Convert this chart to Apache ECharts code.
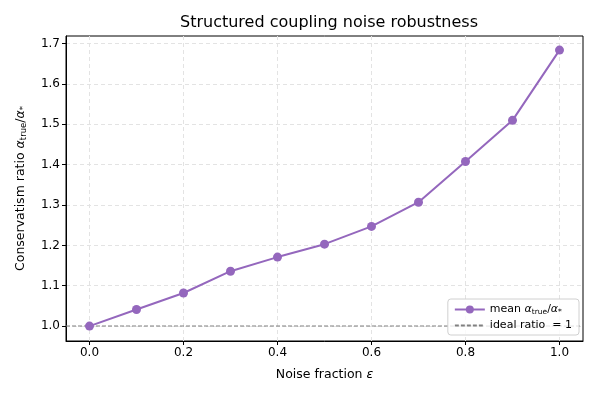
<!DOCTYPE html>
<html>
<head>
<meta charset="utf-8">
<script src="https://cdn.jsdelivr.net/npm/echarts@6/dist/echarts.min.js"></script>
<style>
  html, body { margin: 0; padding: 0; background: #fff; }
  #main { width: 598px; height: 399px; }
</style>
</head>
<body>
<div id="main"></div>
<script>
  // noise fraction eps and mean alpha_true / alpha_*
  const noiseFrac = [0.0, 0.1, 0.2, 0.3, 0.4, 0.5, 0.6, 0.7, 0.8, 0.9, 1.0];
  const meanRatio = [1.000, 1.041, 1.082, 1.136, 1.171, 1.203, 1.247, 1.307, 1.408, 1.510, 1.684];
  const idealRatio = 1;
  const xTicks = [0.0, 0.2, 0.4, 0.6, 0.8, 1.0];
  const yTicks = [1.0, 1.1, 1.2, 1.3, 1.4, 1.5, 1.6, 1.7];

  const font = 'DejaVu Sans';
  const purple = '#9467bd';

  const chart = echarts.init(document.getElementById('main'));
  chart.setOption({
    backgroundColor: '#ffffff',
    animation: false,
    textStyle: { fontFamily: font },
    title: {
      text: 'Structured coupling noise robustness',
      left: 324, top: 10, textAlign: 'center',
      textStyle: { fontFamily: font, fontSize: 16, fontWeight: 'normal', color: '#000' }
    },
    grid: {
      left: 66, right: 15, top: 36, bottom: 58,
      show: true, borderColor: '#000', borderWidth: 1
    },
    legend: {
      right: 19, bottom: 64,
      orient: 'vertical',
      itemWidth: 30, itemHeight: 10, itemGap: 4,
      padding: [5, 7, 4, 6],
      backgroundColor: 'rgba(255,255,255,0.8)',
      borderColor: '#d0d0d0', borderWidth: 1, borderRadius: 3,
      textStyle: {
        fontFamily: font, fontSize: 11, color: '#000',
        rich: {
          a: { fontFamily: font, fontSize: 11, fontStyle: 'italic' },
          s: { fontFamily: font, fontSize: 7.5, padding: [5, 0, 0, 0] }
        }
      },
      formatter: function (name) {
        if (name === 'mean') return 'mean {a|α}{s|true}/{a|α}{s|*}';
        return 'ideal ratio  = 1';
      },
      data: ['mean', { name: 'ideal', itemStyle: { opacity: 0 } }]
    },
    xAxis: {
      type: 'value',
      min: -0.05, max: 1.05,
      name: 'Noise fraction {e|ε}',
      nameLocation: 'middle', nameGap: 27,
      nameTextStyle: {
        fontFamily: font, fontSize: 12.5, color: '#000',
        rich: { e: { fontFamily: font, fontSize: 12.5, fontStyle: 'italic' } }
      },
      axisLine: { show: true, onZero: false, lineStyle: { color: '#000' } },
      axisTick: { show: true, inside: false, length: 4, customValues: xTicks, lineStyle: { color: '#000' } },
      axisLabel: {
        customValues: xTicks, fontFamily: font, fontSize: 12, color: '#000', margin: 6,
        formatter: v => v.toFixed(1)
      },
      splitLine: { show: true, lineStyle: { color: '#e3e3e3', type: [4, 3] } }
    },
    yAxis: {
      type: 'value',
      min: 0.963, max: 1.719,
      name: 'Conservatism ratio {a|α}{s|true}/{a|α}{s|*}',
      nameLocation: 'middle', nameGap: 38,
      nameTextStyle: {
        fontFamily: font, fontSize: 12.5, color: '#000',
        rich: {
          a: { fontFamily: font, fontSize: 12.5, fontStyle: 'italic' },
          s: { fontFamily: font, fontSize: 8.5, padding: [6, 0, 0, 0] }
        }
      },
      axisLine: { show: true, onZero: false, lineStyle: { color: '#000' } },
      axisTick: { show: true, inside: false, length: 4, customValues: yTicks, lineStyle: { color: '#000' } },
      axisLabel: {
        customValues: yTicks, fontFamily: font, fontSize: 12, color: '#000', margin: 6,
        formatter: v => v.toFixed(1)
      },
      splitLine: { show: true, lineStyle: { color: '#e3e3e3', type: [4, 3] } }
    },
    series: [
      {
        name: 'mean',
        type: 'line',
        data: noiseFrac.map((x, i) => [x, meanRatio[i]]),
        symbol: 'circle', symbolSize: 9,
        lineStyle: { color: purple, width: 2 },
        itemStyle: { color: purple },
        z: 3
      },
      {
        name: 'ideal',
        type: 'line',
        data: [[-0.05, idealRatio], [1.05, idealRatio]],
        symbol: 'none',
        lineStyle: { color: '#808080', width: 1.1, type: [4, 2] },
        itemStyle: { color: '#808080' },
        z: 2
      }
    ]
  });
</script>
</body>
</html>
